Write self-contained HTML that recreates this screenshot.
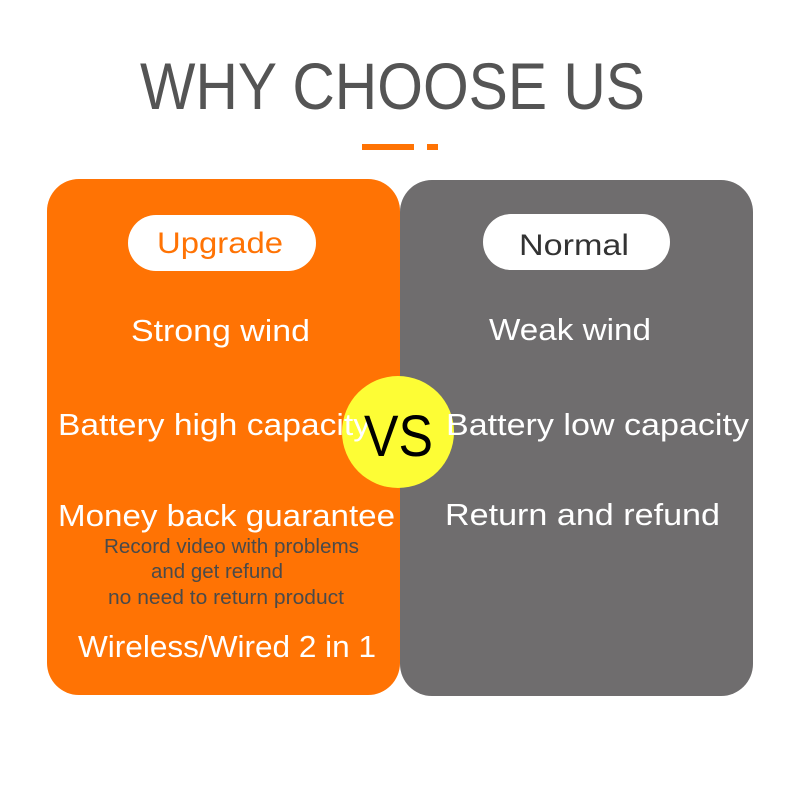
<!DOCTYPE html>
<html><head><meta charset="utf-8"><style>
html,body{margin:0;padding:0;background:#fff;width:800px;height:800px;overflow:hidden}
svg{display:block}
text{font-family:"Liberation Sans",sans-serif}
</style></head><body>
<svg width="800" height="800" viewBox="0 0 800 800" xmlns="http://www.w3.org/2000/svg">
<rect width="800" height="800" fill="#fff"/>
<text x="140" y="109" font-size="66" fill="#545454" textLength="505" lengthAdjust="spacingAndGlyphs">WHY CHOOSE US</text>
<rect x="362" y="144" width="52" height="6" fill="#FF7304"/>
<rect x="427" y="144" width="11" height="6" fill="#FF7304"/>
<rect x="400" y="180" width="353" height="516" rx="32" fill="#6F6D6E"/>
<rect x="47" y="179" width="353" height="516" rx="32" fill="#FF7304"/>
<rect x="128" y="215" width="188" height="56" rx="28" fill="#fff"/>
<rect x="483" y="214" width="187" height="56" rx="28" fill="#fff"/>
<text x="157" y="253" font-size="30" fill="#FF7304" textLength="126" lengthAdjust="spacingAndGlyphs">Upgrade</text>
<text x="519" y="255" font-size="30" fill="#333" textLength="110" lengthAdjust="spacingAndGlyphs">Normal</text>
<circle cx="398" cy="432" r="56" fill="#FDFD35"/>
<g fill="#fff" font-size="31">
<text x="131" y="341" textLength="179" lengthAdjust="spacingAndGlyphs">Strong wind</text>
<text x="489" y="340" textLength="162" lengthAdjust="spacingAndGlyphs">Weak wind</text>
<text x="58" y="435" textLength="312" lengthAdjust="spacingAndGlyphs">Battery high capacity</text>
<text x="446" y="435" textLength="303" lengthAdjust="spacingAndGlyphs">Battery low capacity</text>
<text x="58" y="526" textLength="337" lengthAdjust="spacingAndGlyphs">Money back guarantee</text>
<text x="445" y="525" textLength="275" lengthAdjust="spacingAndGlyphs">Return and refund</text>
<text x="78" y="657" textLength="298" lengthAdjust="spacingAndGlyphs">Wireless/Wired 2 in 1</text>
</g>
<g fill="#4a4a4a" font-size="20">
<text x="104" y="553" textLength="255" lengthAdjust="spacingAndGlyphs">Record video with problems</text>
<text x="151" y="578" textLength="132" lengthAdjust="spacingAndGlyphs">and get refund</text>
<text x="108" y="604" textLength="236" lengthAdjust="spacingAndGlyphs">no need to return product</text>
</g>
<text x="364" y="456" font-size="58" fill="#000" textLength="69" lengthAdjust="spacingAndGlyphs">VS</text>
</svg>
</body></html>
